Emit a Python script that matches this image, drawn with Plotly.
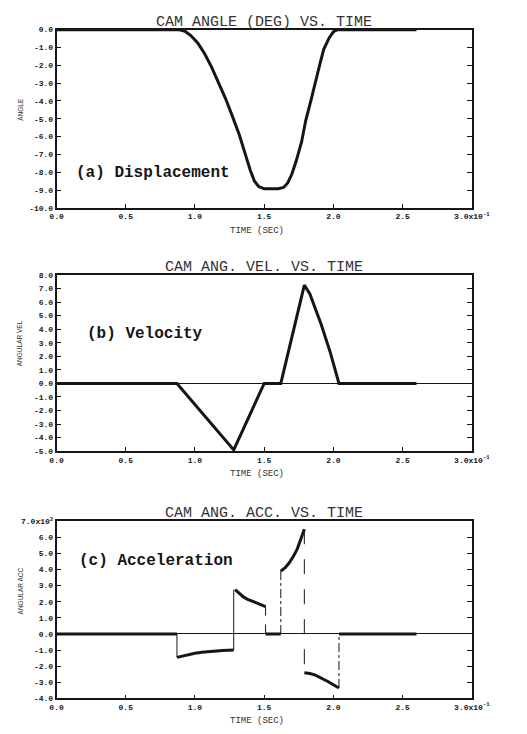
import plotly.graph_objects as go

# ---------------- data ----------------
# (a) displacement
disp_t = [0.0, 0.88, 0.93, 0.97, 1.02, 1.07, 1.12, 1.17, 1.22, 1.27, 1.32, 1.36, 1.40,
          1.43, 1.46, 1.50, 1.60, 1.64, 1.67, 1.70, 1.73, 1.77, 1.80, 1.84, 1.87, 1.90,
          1.93, 1.97, 2.00, 2.03, 2.60]
disp_y = [0.0, 0.0, -0.1, -0.33, -0.75, -1.35, -2.1, -2.95, -3.85, -4.85, -5.9, -6.9, -7.9,
          -8.5, -8.8, -8.92, -8.92, -8.85, -8.6, -8.1, -7.4, -6.3, -5.1, -3.9, -2.9, -2.0,
          -1.1, -0.45, -0.12, 0.0, 0.0]

# (b) velocity
vel_t = [0.0, 0.87, 1.28, 1.50, 1.62, 1.79, 1.83, 1.91, 1.98, 2.04, 2.60]
vel_y = [0.0, 0.0, -4.9, 0.0, 0.0, 7.25, 6.6, 4.4, 2.2, 0.0, 0.0]

# (c) acceleration (x10^2), smooth pieces
acc_seg_t = [
    [0.0, 0.87],
    [0.87, 0.91, 0.95, 1.00, 1.05, 1.10, 1.15, 1.20, 1.28],
    [1.29, 1.32, 1.35, 1.38, 1.42, 1.46, 1.51],
    [1.51, 1.62],
    [1.62, 1.65, 1.68, 1.71, 1.74, 1.77, 1.79],
    [1.79, 1.83, 1.87, 1.92, 1.96, 2.00, 2.04],
    [2.04, 2.60],
]
acc_seg_y = [
    [0.0, 0.0],
    [-1.45, -1.36, -1.27, -1.19, -1.13, -1.08, -1.05, -1.02, -1.0],
    [2.75, 2.5, 2.3, 2.15, 2.0, 1.85, 1.7],
    [0.0, 0.0],
    [3.9, 4.1, 4.4, 4.8, 5.3, 5.95, 6.5],
    [-2.4, -2.45, -2.55, -2.75, -2.95, -3.15, -3.35],
    [0.0, 0.0],
]
# discontinuity jumps
jump_t = [0.87, 1.28, 1.51, 1.62, 1.79, 2.04]
jump_from = [0.0, -1.0, 1.7, 0.0, 6.5, -3.35]
jump_to = [-1.45, 2.75, 0.0, 3.9, -2.4, 0.0]
jump_dash = ["solid", "solid", "dash", "dashdot", "longdash", "dashdot"]

# ticks
x_ticks = [0.0, 0.5, 1.0, 1.5, 2.0, 2.5, 3.0]
x_text = ["0.0", "0.5", "1.0", "1.5", "2.0", "2.5", "3.0x10<sup>-1</sup>"]
a_ticks = [0, -1, -2, -3, -4, -5, -6, -7, -8, -9, -10]
a_text = ["0.0", "-1.0", "-2.0", "-3.0", "-4.0", "-5.0", "-6.0", "-7.0", "-8.0", "-9.0", "-10.0"]
b_ticks = [8, 7, 6, 5, 4, 3, 2, 1, 0, -1, -2, -3, -4, -5]
b_text = ["8.0", "7.0", "6.0", "5.0", "4.0", "3.0", "2.0", "1.0", "0.0",
          "-1.0", "-2.0", "-3.0", "-4.0", "-5.0"]
c_ticks = [7, 6, 5, 4, 3, 2, 1, 0, -1, -2, -3, -4]
c_text = ["7.0x10<sup>2</sup>", "6.0", "5.0", "4.0", "3.0", "2.0", "1.0", "0.0",
          "-1.0", "-2.0", "-3.0", "-4.0"]

titles = ["CAM ANGLE (DEG) VS. TIME", "CAM ANG. VEL. VS. TIME", "CAM ANG. ACC. VS. TIME"]
ytitles = ["ANGLE", "ANGULAR VEL", "ANGULAR ACC"]
labels = ["(a) Displacement", "(b) Velocity", "(c) Acceleration"]

# ---------------- layout geometry ----------------
W, H = 527, 734
X0, X1 = 52, 488
panels_px = [(24, 205), (273, 452), (523, 703)]
label_pos = [(70, 170), (82, 333), (73, 563)]
ytitle_y = [105, 342, 594]
INK = "#161616"

fig = go.Figure()

fig.add_trace(go.Scatter(x=disp_t, y=disp_y, mode="lines", line=dict(color=INK, width=3),
                         xaxis="x", yaxis="y", showlegend=False))
fig.add_trace(go.Scatter(x=vel_t, y=vel_y, mode="lines", line=dict(color=INK, width=3),
                         xaxis="x2", yaxis="y2", showlegend=False))
for jt, jf, jto, jd in zip(jump_t, jump_from, jump_to, jump_dash):
    fig.add_trace(go.Scatter(x=[jt, jt], y=[jf, jto], mode="lines",
                             line=dict(color=INK, width=1, dash=jd),
                             xaxis="x3", yaxis="y3", showlegend=False))
acc_x, acc_y = [], []
for st, sy in zip(acc_seg_t, acc_seg_y):
    acc_x += st + [None]
    acc_y += sy + [None]
fig.add_trace(go.Scatter(x=acc_x, y=acc_y, mode="lines", line=dict(color=INK, width=3),
                         xaxis="x3", yaxis="y3", showlegend=False))

tickfont = dict(family="Liberation Mono", size=8, color=INK, weight="bold")
ranges = [(-10, 0), (-5, 8), (-4, 7)]
ticks = [(a_ticks, a_text), (b_ticks, b_text), (c_ticks, c_text)]
annotations = []
layout = {}
for i, ((top, bot), (ymin, ymax), (tv, tt)) in enumerate(zip(panels_px, ranges, ticks)):
    sfx = "" if i == 0 else str(i + 1)
    ydom = [1 - bot / H, 1 - top / H]
    layout["xaxis" + sfx] = dict(
        domain=[X0 / W, X1 / W], range=[0, 3.0], anchor="y" + sfx,
        tickvals=x_ticks, ticktext=x_text, ticks="inside", ticklen=4, tickwidth=1,
        tickcolor=INK, showline=True, linewidth=1.5, linecolor=INK, mirror=True,
        showgrid=False, zeroline=False, tickfont=tickfont)
    layout["yaxis" + sfx] = dict(
        domain=ydom, range=[ymin, ymax], anchor="x" + sfx,
        tickvals=tv, ticktext=tt, ticks="inside", ticklen=5, tickwidth=1,
        tickcolor=INK, showline=True, linewidth=1.5, linecolor=INK, mirror="ticks",
        showgrid=False, zeroline=(i > 0), zerolinecolor=INK, zerolinewidth=1,
        tickfont=tickfont)
    # title
    annotations.append(dict(text=titles[i], x=(X0 + X1) / 2 / W, y=ydom[1], xref="paper",
                            yref="paper", xanchor="center", yanchor="bottom", yshift=-3,
                            showarrow=False,
                            font=dict(family="Liberation Mono", size=15, color="#333")))
    # x title
    annotations.append(dict(text="TIME (SEC)", x=262 / W, y=1 - (bot + 23) / H, xref="paper",
                            yref="paper", xanchor="center", yanchor="middle", showarrow=False,
                            font=dict(family="Liberation Mono", size=9, color="#333")))
    # y title
    annotations.append(dict(text=ytitles[i], x=14 / W, y=1 - ytitle_y[i] / H, xref="paper",
                            yref="paper", xanchor="center", yanchor="middle", textangle=-90,
                            showarrow=False,
                            font=dict(family="Liberation Sans", size=6.5, color="#333")))
    # panel label
    lx, ly = label_pos[i]
    annotations.append(dict(text=labels[i], x=lx / W, y=1 - ly / H, xref="paper",
                            yref="paper", xanchor="left", yanchor="middle", showarrow=False,
                            font=dict(family="Liberation Mono", size=16, color=INK,
                                      weight="bold")))

fig.update_layout(width=W, height=H, margin=dict(l=0, r=0, t=0, b=0),
                  paper_bgcolor="white", plot_bgcolor="white",
                  annotations=annotations, **layout)

fig.write_html("out.html", config={"displayModeBar": False},
               post_script="document.body.style.margin='0';document.body.style.overflow='hidden';")
